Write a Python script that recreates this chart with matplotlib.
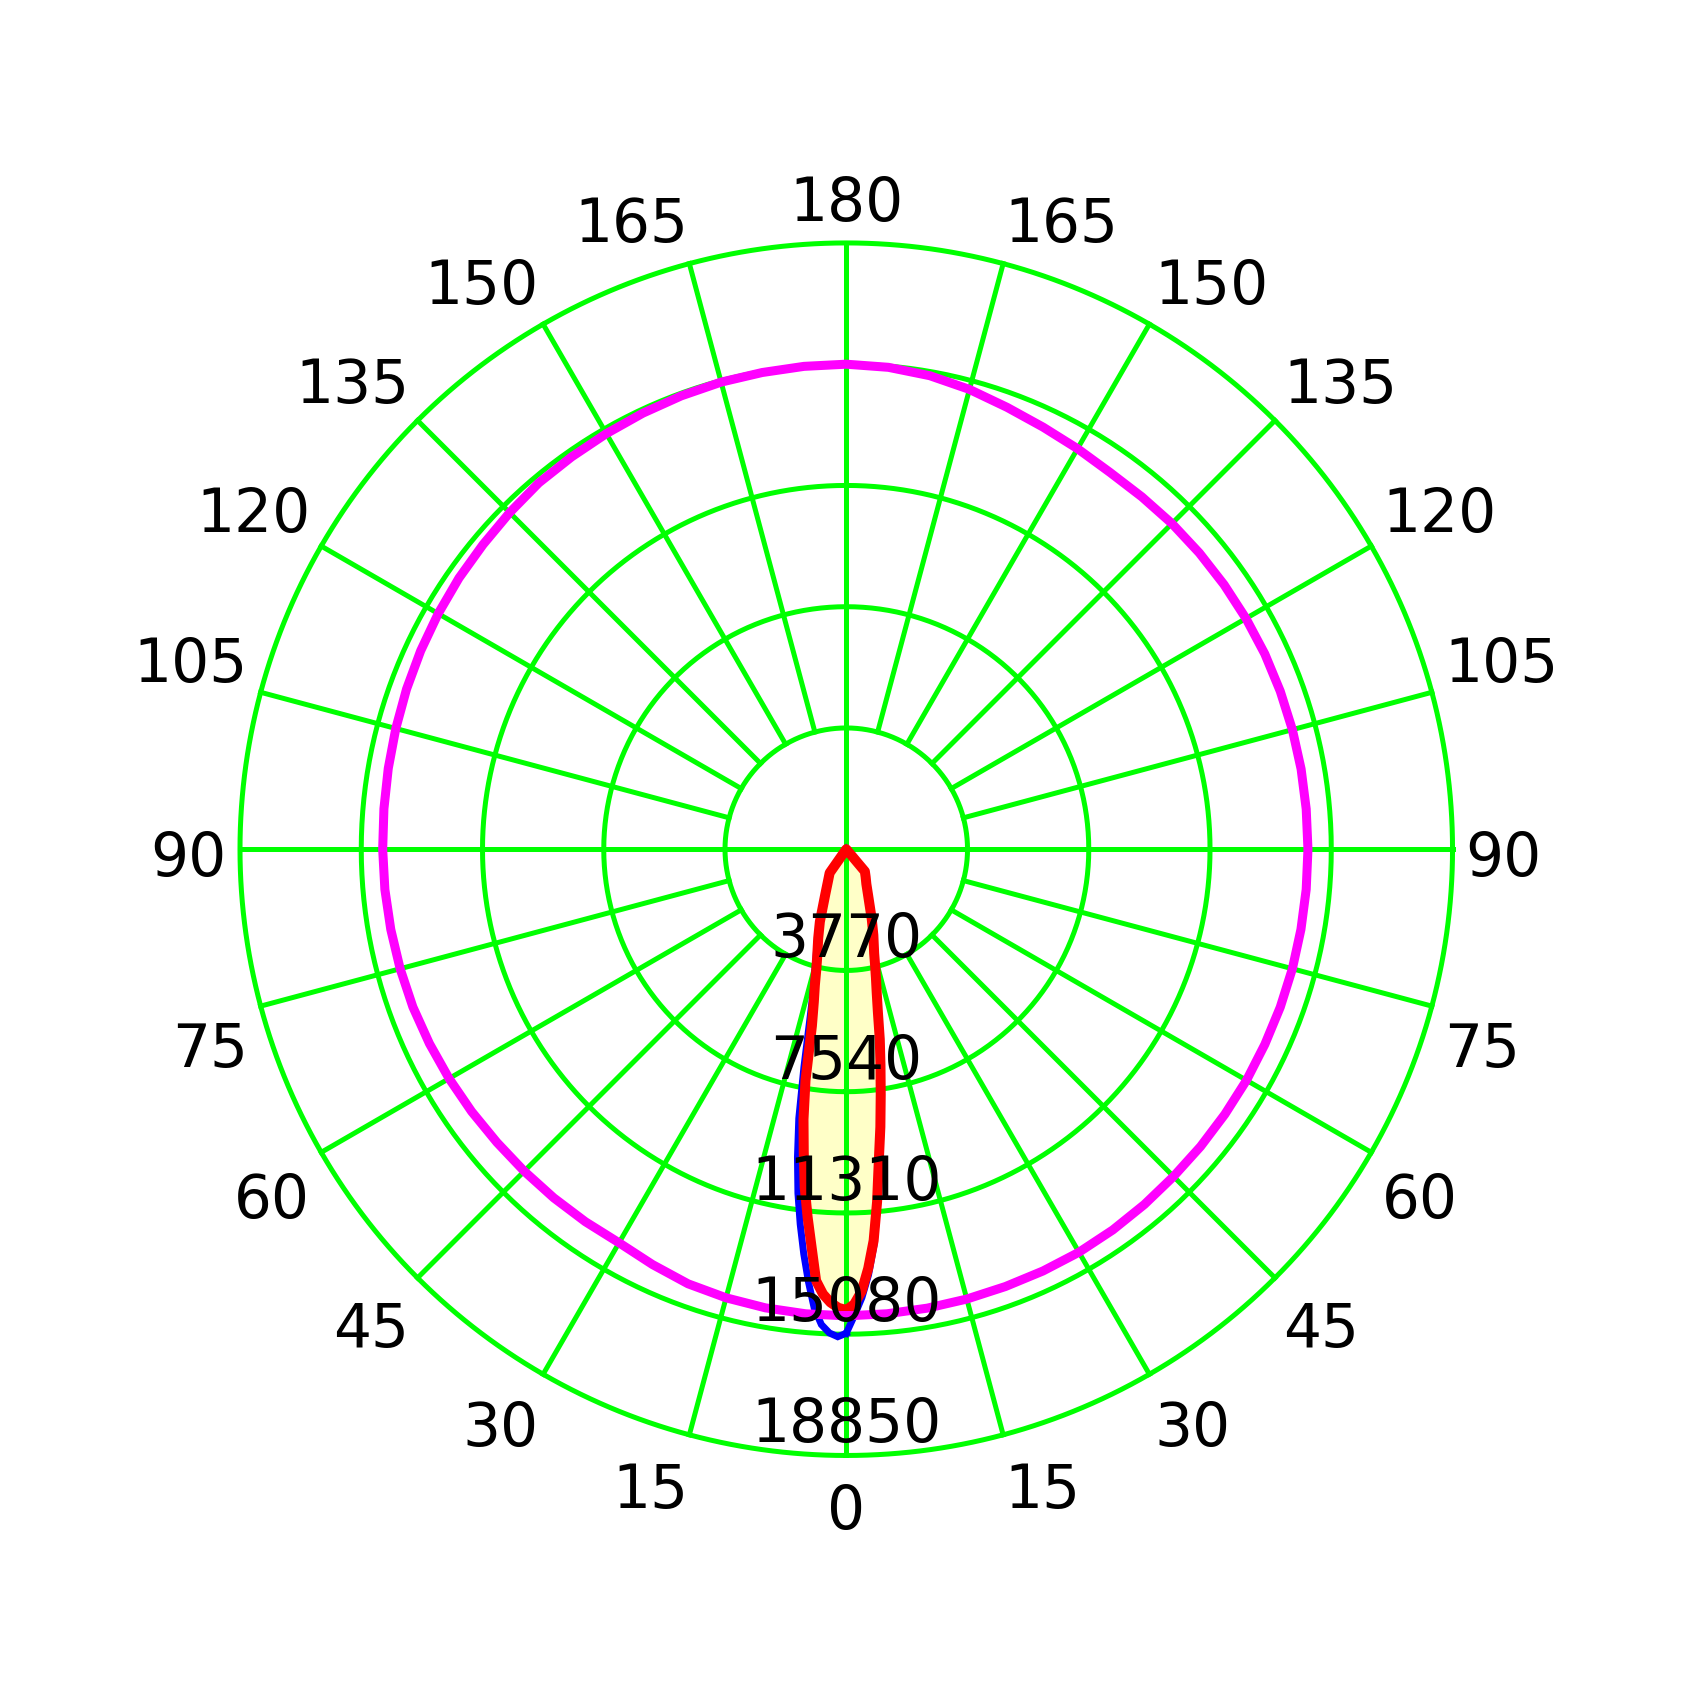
import numpy as np
import matplotlib
matplotlib.use('Agg')
import matplotlib.pyplot as plt

plt.rcParams['font.family'] = ['DejaVu Sans']

# ring values (cd) and angle ticks
rings = [3770, 7540, 11310, 15080, 18850]
tick_deg = list(range(0, 360, 15))
tick_lab = [str(a if a <= 180 else 360 - a) for a in tick_deg]

# beam (red / blue): angle from nadir, right side (+) and left side (-)
beam_deg = [0, 1, 2, 3, 4, 5, 6, 7, 8, 9, 10, 11, 12, 13, 14, 15, 17.5, 20, 25, 30, 35, 40, 45]
red_right = [14330, 14150, 13750, 13050, 12200, 11000, 9700, 8700, 7700, 6800, 6000, 5150,
             4550, 4100, 3700, 3350, 2800, 2320, 1620, 1250, 1050, 900, 0]
red_left = [14330, 14260, 14100, 13850, 13450, 12400, 11500, 10600, 9500, 8500, 7300, 5600,
            4850, 4340, 3850, 3500, 2900, 2400, 1540, 1130, 900, 0, 0]
blue_right = [15050, 14500, 13950, 13250, 12350, 11150, 9850, 8850, 7850, 6950, 6150, 5300,
              4650, 4200, 3800, 3450, 2870, 2380, 1660, 1280, 1080, 920, 0]
blue_left = [15050, 15160, 15050, 14800, 14300, 13500, 12650, 11750, 10800, 9700, 8500, 6900,
             5500, 4600, 4100, 3700, 3000, 2480, 1620, 1180, 930, 0, 0]

# magenta curve, 5 deg steps, right side 0..180 then left side 175..5
mag_deg = list(range(0, 360, 5))
mag_right = [14510, 14500, 14490, 14480, 14470, 14470, 14470, 14450, 14420, 14390,
             14380, 14370, 14370, 14360, 14360, 14360, 14355, 14355, 14355, 14355,
             14360, 14360, 14360, 14360, 14350, 14340, 14330, 14320, 14300, 14300,
             14380, 14480, 14620, 14800, 14950, 15040, 15080]
mag_left = [15070, 15050, 15035, 15000, 14960, 14920, 14890, 14870, 14800, 14740,
            14700, 14650, 14600, 14550, 14500, 14460, 14430, 14414, 14400, 14380,
            14360, 14340, 14300, 14260, 14220, 14180, 14160, 14150, 14140, 14130,
            14250, 14380, 14440, 14480, 14500]
mag_val = mag_right + mag_left

green = '#00ff00'
fs = 43


def closed(right_deg, right, left):
    # right side goes 0 -> +max, then left side -max -> 0
    th = [np.deg2rad(a) for a in right_deg] + [np.deg2rad(-a) for a in right_deg[::-1]]
    r = list(right) + list(left[::-1])
    return th, r


fig = plt.figure(figsize=(16.93, 16.92), dpi=100)
ax = fig.add_axes([0.14176, 0.13977, 0.7162, 0.71667], projection='polar')
ax.set_theta_zero_location('S')
ax.set_theta_direction(1)
ax.set_rlim(0, rings[-1])
ax.set_yticks([])
ax.set_xticks(np.deg2rad(tick_deg))
ax.set_xticklabels([])
ax.xaxis.grid(False)
ax.tick_params(axis='x', length=0)
ax.spines['polar'].set_visible(False)

# fill of the beam
th_red, r_red = closed(beam_deg, red_right, red_left)
ax.fill(th_red, r_red, color='#ffffc8', zorder=1, lw=0)

# grid: rings and spokes
circ = np.linspace(0, 2 * np.pi, 721)
for rv in rings:
    ax.plot(circ, np.full_like(circ, rv), color=green, lw=3.6, zorder=2, clip_on=False)
for a in tick_deg:
    r0 = 0 if a % 90 == 0 else rings[0]
    ax.plot([np.deg2rad(a)] * 2, [r0, rings[-1]], color=green, lw=3.6, zorder=2, clip_on=False)

# curves
th_blue, r_blue = closed(beam_deg, blue_right, blue_left)
ax.plot(th_blue, r_blue, color='#0000ff', lw=5, zorder=3, solid_joinstyle='miter')
ax.plot(th_red, r_red, color='#ff0000', lw=7.2, zorder=4, solid_joinstyle='round')
th_mag = np.deg2rad(mag_deg + [360])
ax.plot(th_mag, mag_val + [mag_val[0]], color='#ff00ff', lw=6.5, zorder=5)

# angle labels, anchored just outside the outer ring
r_lab = rings[-1] * 1.0275
for a, lab in zip(tick_deg, tick_lab):
    s = np.sin(np.deg2rad(a))
    c = np.cos(np.deg2rad(a))
    if abs(s) < 1e-6:
        ha, dx = 'center', 0
    elif s > 0:
        ha, dx = 'left', -2.5
    else:
        ha, dx = 'right', 2.5
    if abs(c) < 1e-6:
        dy = -19
    elif c < 0:
        dy = 4
    else:
        dy = -41
    ax.annotate(lab, xy=(np.deg2rad(a), r_lab), xytext=(dx, dy), textcoords='offset points',
                ha=ha, va='baseline', fontsize=fs, annotation_clip=False)

# ring labels along the nadir
for rv in rings:
    ax.annotate(str(rv), xy=(0, rv), xytext=(0, 9.5), textcoords='offset points',
                ha='center', va='baseline', fontsize=fs, zorder=6,
                annotation_clip=False)

fig.savefig('out.png', dpi=100)
